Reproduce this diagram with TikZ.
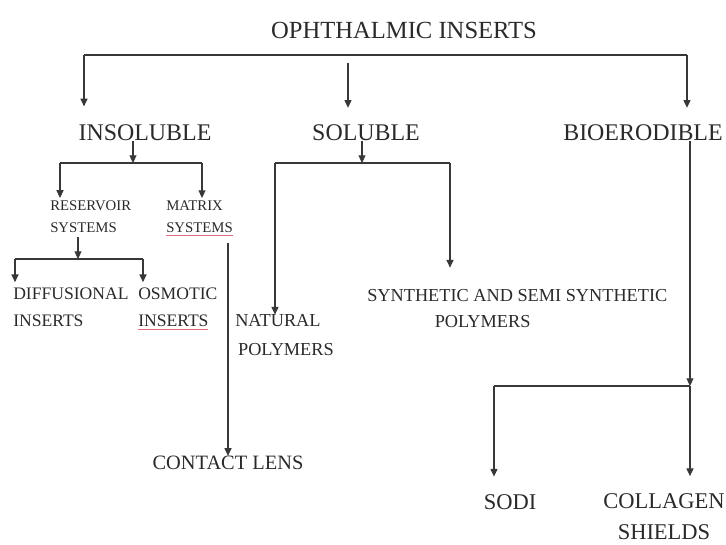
\documentclass[tikz,border=0pt]{standalone}
\usepackage{fontspec}
\setmainfont{Liberation Serif}
\usepackage{xcolor}
\usepackage{tikz}
\usetikzlibrary{arrows.meta}
\definecolor{ink}{HTML}{2A2A2A}
\definecolor{wire}{HTML}{383838}
\definecolor{squig}{HTML}{E06A7A}
\tikzset{
  ttl/.style={inner sep=0pt,text=ink,font=\fontsize{17.5}{20}\selectfont},
  lvA/.style={inner sep=0pt,text=ink,font=\fontsize{17}{20}\selectfont},
  lvB/.style={inner sep=0pt,text=ink,align=left,anchor=west,
    font=\fontsize{10.5}{15.6}\selectfont},
  lvC/.style={inner sep=0pt,text=ink,align=left,anchor=west,
    font=\fontsize{12.5}{19.2}\selectfont},
  lvD/.style={inner sep=0pt,text=ink,align=left,anchor=west,
    font=\fontsize{13}{20}\selectfont},
  lvE/.style={inner sep=0pt,text=ink,align=center,
    font=\fontsize{16}{22}\selectfont},
  fl/.style={-{Triangle[length=5.5pt,width=5pt]},draw=wire,line width=0.8pt},
  ln/.style={draw=wire,line width=0.8pt},
  ul/.style={draw=squig,line width=0.6pt},
}
\begin{document}
\begin{tikzpicture}[x=0.025cm,y=-0.025cm]
  \useasboundingbox (0,0) rectangle (726,545);
  % labels
  \node[ttl] (top) at (404,30) {OPHTHALMIC INSERTS};
  \node[lvA] (insol) at (145,133) {INSOLUBLE};
  \node[lvA] (sol) at (366,133) {SOLUBLE};
  \node[lvA] (bio) at (643,133) {BIOERODIBLE};
  \node[lvB] (rsv) at (50,217) {RESERVOIR\\SYSTEMS};
  \node[lvB] (mtx) at (166,217) {MATRIX\\SYSTEMS};
  \node[lvC] (dif) at (13,307.5) {DIFFUSIONAL\\INSERTS};
  \node[lvC] (osm) at (138,307.5) {OSMOTIC\\INSERTS};
  \node[lvD,font=\fontsize{13}{20.6}\selectfont] (nat) at (235,335.5) {NATURAL\\\hspace*{2pt}POLYMERS};
  \node[lvD,font=\fontsize{13}{18.5}\selectfont] (syn) at (367,309) {SYNTHETIC AND SEMI SYNTHETIC\\\hspace*{48pt}POLYMERS};
  \node[lvA,font=\fontsize{14.5}{17}\selectfont] (lens) at (228,463) {CONTACT LENS};
  \node[lvE] (sodi) at (510,502) {SODI};
  \node[lvE] (coll) at (664,517) {COLLAGEN\\SHIELDS};
  % branch points
  \coordinate (tL) at (84,55);
  \coordinate (tR) at (687,55);
  \coordinate (tM) at (348,63);
  \coordinate (iB) at (133,163);
  \coordinate (iL) at (60,163);
  \coordinate (iR) at (202,163);
  \coordinate (rB) at (78,259);
  \coordinate (rL) at (15,259);
  \coordinate (rR) at (143,259);
  \coordinate (sB) at (362,163);
  \coordinate (sL) at (275,163);
  \coordinate (sR) at (450,163);
  \coordinate (bB) at (690,386);
  \coordinate (bL) at (494,386);
  % top level
  \draw[ln] (tL) -- (tR);
  \draw[fl,shorten >=13pt] (tL) -- (tL |- insol.north);
  \draw[fl,shorten >=12pt] (tM) -- (tM |- sol.north);
  \draw[fl,shorten >=12pt] (tR) -- (tR |- bio.north);
  % insoluble
  \draw[fl] (insol.south -| iB) -- (iB);
  \draw[ln] (iL) -- (iR);
  \draw[fl,shorten >=2pt] (iL) -- (iL |- rsv.north);
  \draw[fl,shorten >=2pt] (iR) -- (iR |- mtx.north);
  \draw[fl,shorten <=3pt] (rsv.south -| rB) -- (rB);
  \draw[ln] (rL) -- (rR);
  \draw[fl,shorten >=4pt] (rL) -- (rL |- dif.north);
  \draw[fl,shorten >=4pt] (rR) -- (rR |- osm.north);
  \draw[fl,shorten <=7pt] (mtx.south -| lens.north) -- (lens.north);
  \draw[ul] ([yshift=-1.5pt]mtx.south west) -- ([yshift=-1.5pt]mtx.south east);
  \draw[ul] ([yshift=-1.5pt]osm.south west) -- ([yshift=-1.5pt,xshift=-7pt]osm.south east);
  % soluble
  \draw[fl] (sol.south -| sB) -- (sB);
  \draw[ln] (sL) -- (sR);
  \draw[fl] (sL) -- (sL |- nat.north);
  \draw[fl,shorten >=15.6pt] (sR) -- (sR |- syn.north);
  % bioerodible
  \draw[fl] (bio.south -| bB) -- (bB);
  \draw[ln] (bL) -- (bB);
  \draw[fl,shorten >=12.5pt] (bL) -- (bL |- sodi.north);
  \draw[fl,shorten >=12.5pt] (bB) -- (bB |- coll.north);
\end{tikzpicture}
\end{document}
